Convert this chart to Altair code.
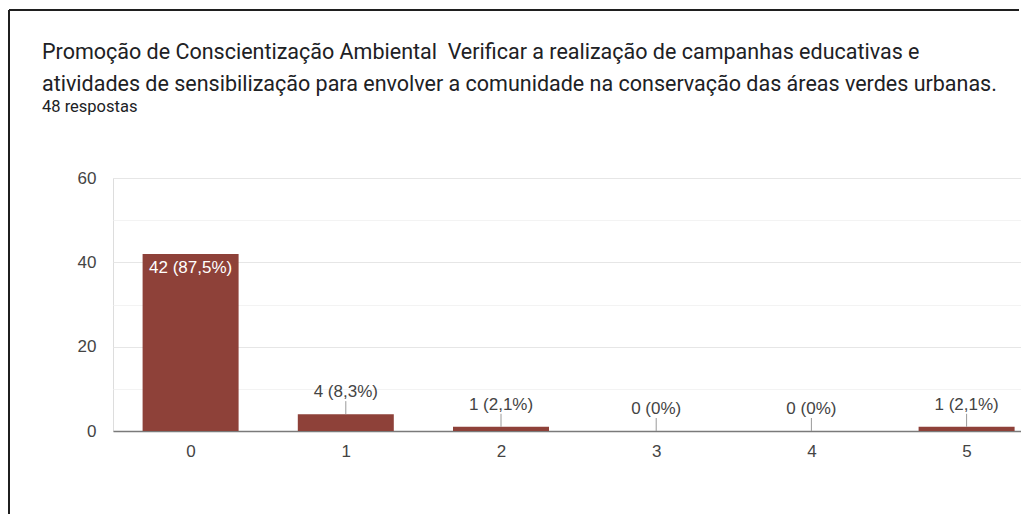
import altair as alt
import pandas as pd

# ---- data ----
categories = [0, 1, 2, 3, 4, 5]
counts = [42, 4, 1, 0, 0, 1]
total_responses = 48
title_lines = [
    "Promoção de Conscientização Ambiental\u00a0 Verificar a realização de campanhas educativas e",
    "atividades de sensibilização para envolver a comunidade na conservação das áreas verdes urbanas.",
]
subtitle_text = "48 respostas"
y_tick_values = [0, 10, 20, 30, 40, 50, 60]


def pct_label(c):
    p = round(c / total_responses * 100, 1)
    s = f"{p:.1f}".rstrip("0").rstrip(".")
    return f"{c} ({s.replace('.', ',')}%)"


df = pd.DataFrame({
    "cat": categories,
    "count": counts,
    "label": [pct_label(c) for c in counts],
})

BAR = "#8e4139"
LABEL_FONT = "Arial, Liberation Sans"
FS = 17
step = 155.2
plot_w = 908
plot_h = 253

x_enc = alt.X(
    "cat:Q",
    scale=alt.Scale(domain=[-0.5, -0.5 + plot_w / step], nice=False, zero=False, padding=0),
    axis=alt.Axis(
        values=categories, title=None, grid=False, ticks=False,
        domain=True, domainColor="#7a7a7a", domainWidth=1.5,
        labelFontSize=FS, labelColor="#444444", labelFont=LABEL_FONT,
        labelPadding=12, format="d",
    ),
)
y_enc = alt.Y(
    "count:Q",
    scale=alt.Scale(domain=[0, 60], nice=False, padding=0),
    axis=alt.Axis(
        values=y_tick_values, title=None, ticks=False, domain=False,
        labelExpr="datum.value % 20 === 0 ? datum.label : ''",
        gridColor=alt.condition("datum.value % 20 === 0", alt.value("#e6e6e6"), alt.value("#f3f3f3")),
        labelFontSize=FS, labelColor="#444444", labelFont=LABEL_FONT,
        labelPadding=17,
    ),
)

base = alt.Chart(df)

bars = base.mark_bar(size=96, color=BAR).encode(x=x_enc, y=y_enc)

leaders = base.transform_filter("datum.count < 10").mark_rule(
    color="#9a9a9a", strokeWidth=1, y2Offset=-13
).encode(x="cat:Q", y="count:Q", y2="count:Q")

out_labels = base.transform_filter("datum.count < 10").mark_text(
    dy=-22, fontSize=FS, color="#444444", font=LABEL_FONT, baseline="middle"
).encode(x="cat:Q", y="count:Q", text="label:N")

in_labels = base.transform_filter("datum.count >= 10").mark_text(
    dy=6, fontSize=FS, color="#ffffff", font=LABEL_FONT, baseline="top"
).encode(x="cat:Q", y="count:Q", text="label:N")

frame_data = alt.Data(values=[{"k": 1}])
frame_left = alt.Chart(frame_data).mark_rule(color="#1f1f1f", strokeWidth=2).encode(
    x=alt.value(-104), y=alt.value(-168), y2=alt.value(336)
)
frame_top = alt.Chart(frame_data).mark_rule(color="#1f1f1f", strokeWidth=2).encode(
    x=alt.value(-104), x2=alt.value(plot_w - 2), y=alt.value(-168)
)

chart = alt.layer(bars, leaders, out_labels, in_labels, frame_left, frame_top).properties(
    width=plot_w,
    height=plot_h,
    padding={"left": 0, "top": 1, "right": 0, "bottom": 0},
    title=alt.TitleParams(
        text=title_lines,
        subtitle=subtitle_text,
        anchor="start",
        frame="group",
        dx=-71,
        dy=106,
        font="Roboto",
        fontSize=21.5,
        fontWeight="normal",
        color="#202124",
        lineHeight=32,
        subtitleFont="Roboto",
        subtitleFontSize=16.5,
        subtitleColor="#202124",
        subtitlePadding=3,
        offset=0,
    ),
).configure_view(stroke=None).configure(background="#ffffff")

chart.save("out.html", embed_options={"renderer": "svg", "actions": False})
